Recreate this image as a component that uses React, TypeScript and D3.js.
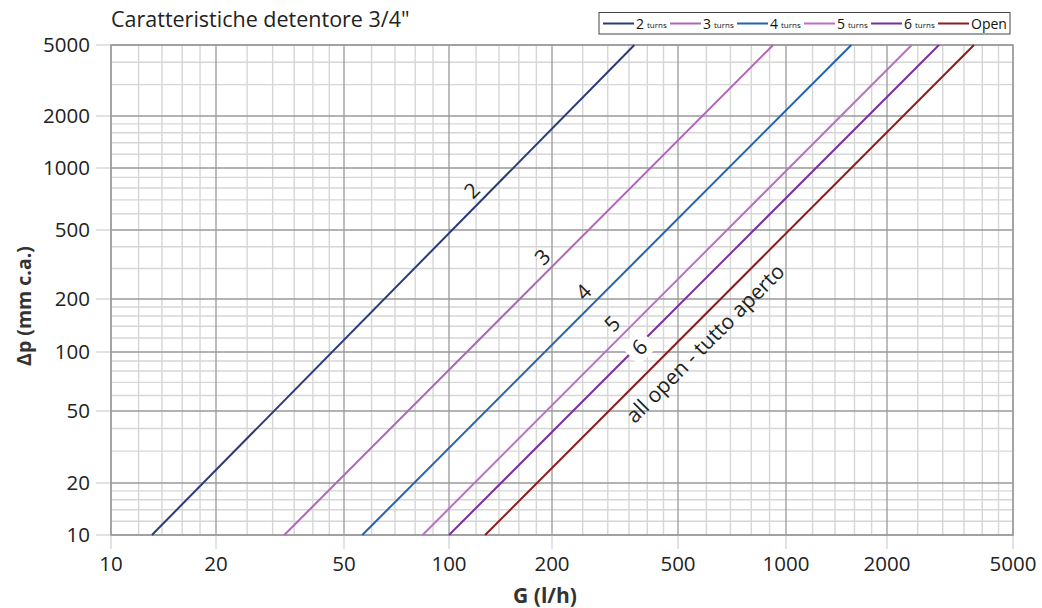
import React from 'react';
import * as d3 from 'd3';

// ---- data ----
const xTickValues = [10, 20, 50, 100, 200, 500, 1000, 2000, 5000];
const yTickValues = [10, 20, 50, 100, 200, 500, 1000, 2000, 5000];
const xMinorValues = [12, 14, 16, 18, 25, 30, 35, 40, 45, 60, 70, 80, 90, 120, 140, 160, 180, 250, 300, 350, 400, 450, 600, 700, 800, 900, 1200, 1400, 1600, 1800, 2500, 3000, 3500, 4000, 4500];
const yMinorValues = [12, 14, 16, 18, 30, 40, 60, 70, 80, 90, 120, 140, 160, 180, 300, 400, 600, 700, 800, 900, 1200, 1400, 1600, 1800, 3000, 4000];

const legendNumbers = ['2', '3', '4', '5', '6', 'Open'];
const legendSuffix = ['turns', 'turns', 'turns', 'turns', 'turns', ''];
const seriesColors = ['#2d3a7a', '#b066b9', '#2662b0', '#bb6fc5', '#7b2e9b', '#8c1c1c'];
const dpStart = 10;
const dpEnd = 5000;
const gAtStart = [13.1, 32.6, 56.4, 84, 100, 127.5];
const gAtEnd = [364, 921, 1565, 2394, 2918, 3765];
const curveLabels = ['2', '3', '4', '5', '6', 'all open - tutto aperto'];

// ---- layout ----
const W = 1042;
const H = 608;
const xPix = [111, 216, 344, 449, 552, 678, 786, 887, 1013];
const yPix = [535, 483, 411, 352, 299, 230, 168, 116, 45];
const labelT = [0.704, 0.568, 0.4965, 0.432, 0.384, 0.392];
const labelDx = [-20, -20, -22, -22, 2, 28];
const FONT = '"Open Sans", "Noto Sans", sans-serif';

export default function App() {
  const x = d3.scaleLog().domain(xTickValues).range(xPix);
  const y = d3.scaleLog().domain(yTickValues).range(yPix);
  const left = x(10), right = x(5000), top = y(5000), bottom = y(10);
  const line = d3.line<[number, number]>().x(d => x(d[0])).y(d => y(d[1]));

  const minorColor = '#d6d6d6';
  const majorColor = '#9a9a9a';

  return (
    <svg width={W} height={H} style={{ position: 'absolute', left: 0, top: 0, background: '#fff' }} fontFamily={FONT}>
      <rect x={0} y={0} width={W} height={H} fill="#fff" />
      {/* minor grid */}
      {xMinorValues.map(v => (
        <line key={'xm' + v} x1={x(v)} x2={x(v)} y1={top} y2={bottom} stroke={minorColor} strokeWidth={1.4} />
      ))}
      {yMinorValues.map(v => (
        <line key={'ym' + v} x1={left} x2={right} y1={y(v)} y2={y(v)} stroke={minorColor} strokeWidth={1.4} />
      ))}
      {/* tick marks outside */}
      {xTickValues.map(v => (
        <line key={'xt' + v} x1={x(v)} x2={x(v)} y1={bottom} y2={bottom + 14} stroke={minorColor} strokeWidth={1.4} />
      ))}
      {yTickValues.map(v => (
        <line key={'yt' + v} x1={left - 15} x2={left} y1={y(v)} y2={y(v)} stroke={minorColor} strokeWidth={1.4} />
      ))}
      {/* major grid */}
      {xTickValues.map(v => (
        <line key={'xM' + v} x1={x(v)} x2={x(v)} y1={top} y2={bottom} stroke={majorColor} strokeWidth={1.3} />
      ))}
      {yTickValues.map(v => (
        <line key={'yM' + v} x1={left} x2={right} y1={y(v)} y2={y(v)} stroke={majorColor} strokeWidth={1.3} />
      ))}
      <rect x={left} y={top} width={right - left} height={bottom - top} fill="none" stroke={majorColor} strokeWidth={1.4} />

      {/* tick labels */}
      {xTickValues.map(v => (
        <text key={'xl' + v} x={x(v)} y={bottom + 36} textAnchor="middle" fontSize={20.5} fill="#222">{v}</text>
      ))}
      {yTickValues.map(v => (
        <text key={'yl' + v} x={90} y={y(v) + 7} textAnchor="end" fontSize={20.5} fill="#222">{v}</text>
      ))}

      {/* series */}
      {gAtStart.map((g0, i) => (
        <path key={'s' + i} d={line([[g0, dpStart], [gAtEnd[i], dpEnd]]) || ''} fill="none" stroke={seriesColors[i]} strokeWidth={2} />
      ))}

      {/* curve labels */}
      {gAtStart.map((g0, i) => {
        const x1 = x(g0), y1 = y(dpStart), x2 = x(gAtEnd[i]), y2 = y(dpEnd);
        const ang = (Math.atan2(y2 - y1, x2 - x1) * 180) / Math.PI;
        const t = labelT[i];
        const cx = x1 + t * (x2 - x1) + labelDx[i];
        const cy = y1 + t * (y2 - y1);
        return (
          <g key={'lab' + i} transform={`translate(${cx},${cy}) rotate(${ang})`}>
            {i === 4 && <rect x={-13} y={-13} width={26} height={26} fill="#fff" />}
            <text textAnchor="middle" dominantBaseline="central" fontSize={21} fill="#222">{curveLabels[i]}</text>
          </g>
        );
      })}

      {/* title */}
      <text x={111} y={27} fontSize={21.5} fill="#222">Caratteristiche detentore 3/4"</text>

      {/* axis titles */}
      <text x={545} y={603} textAnchor="middle" fontSize={21} fontWeight="bold" fill="#333">G (l/h)</text>
      <text transform={`translate(31,306) rotate(-90)`} textAnchor="middle" fontSize={19.5} fontWeight="bold" fill="#333">Δp (mm c.a.)</text>

      {/* legend */}
      <rect x={599} y={12.5} width={411} height={21.5} fill="#fff" stroke="#444" strokeWidth={1} />
      {legendNumbers.map((n, i) => {
        const x0 = 603 + i * 67;
        return (
          <g key={'lg' + i}>
            <line x1={x0} x2={x0 + 31} y1={23.5} y2={23.5} stroke={seriesColors[i]} strokeWidth={2} />
            <text x={x0 + 33} y={28.5} fontSize={14} fill="#111">{n}</text>
            {legendSuffix[i] && <text x={x0 + 44} y={28} fontSize={8} fill="#111">{legendSuffix[i]}</text>}
          </g>
        );
      })}
    </svg>
  );
}
